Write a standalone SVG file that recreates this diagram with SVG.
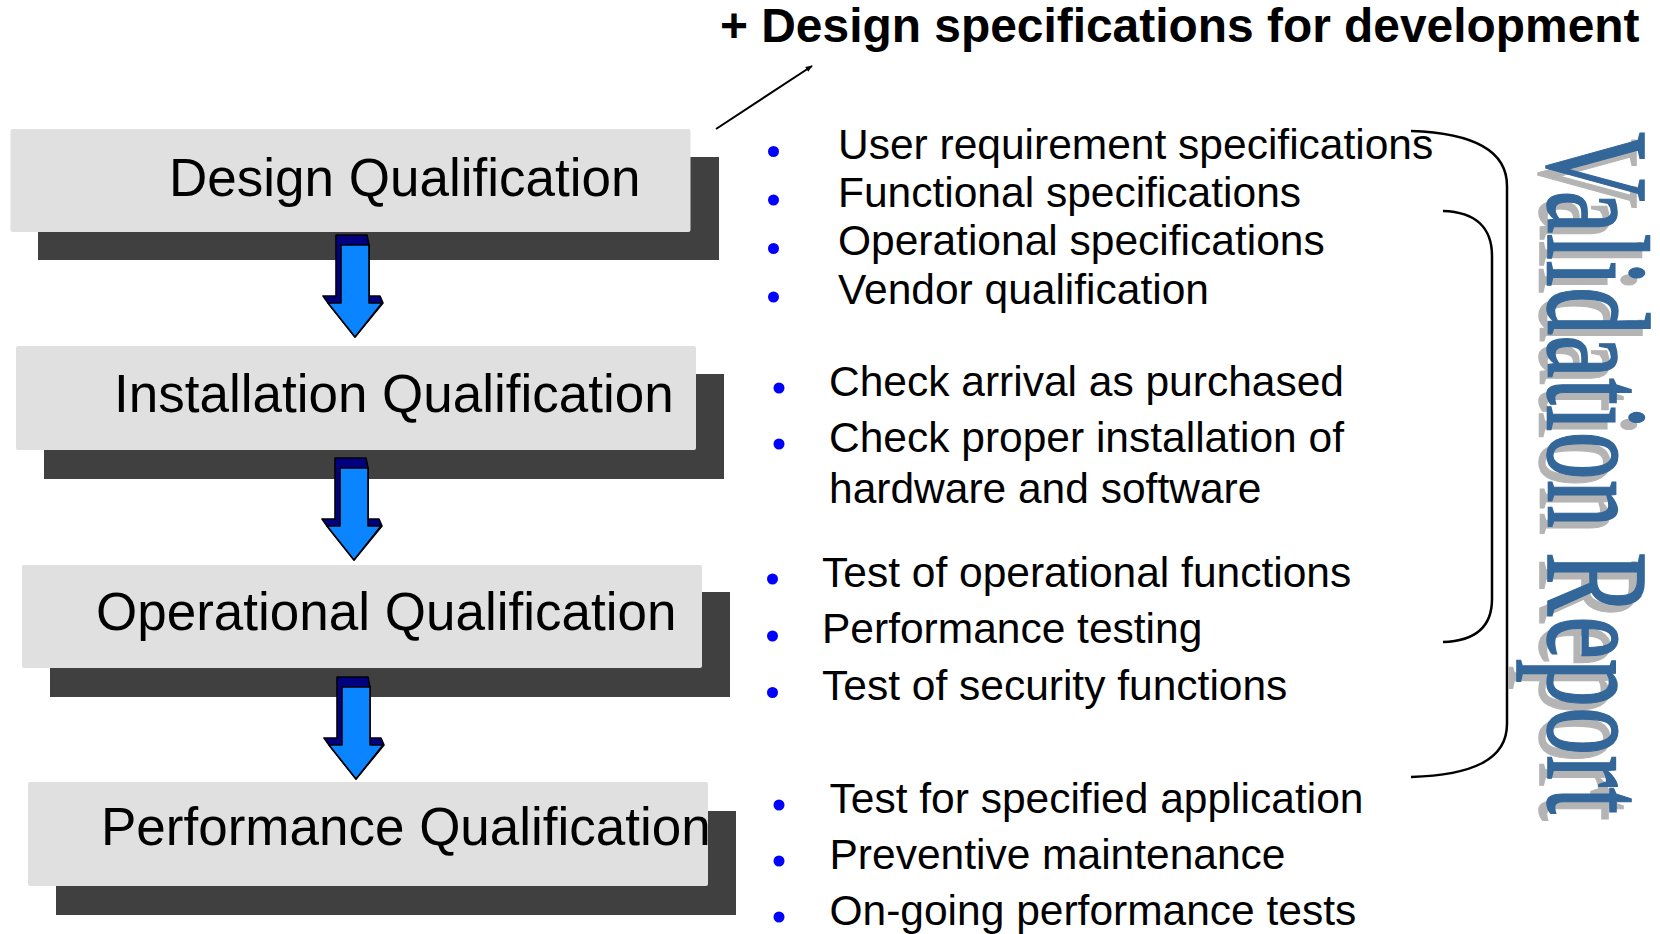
<svg xmlns="http://www.w3.org/2000/svg" width="1660" height="934" viewBox="0 0 1660 934">
  <defs>
    <style>
      .shadow { fill: #404040; }
      .box { fill: #e0e0e0; }
      .label { font-family: "Liberation Sans", Arial, sans-serif; font-size: 53px; fill: #000; }
      .item { font-family: "Liberation Sans", Arial, sans-serif; font-size: 42.5px; fill: #000; }
      .bullet { fill: #0000ff; }
      .title { font-family: "Liberation Sans", Arial, sans-serif; font-size: 47.9px; font-weight: bold; fill: #000; }
      .vr { font-family: "Liberation Serif", "Times New Roman", serif; font-size: 146px; stroke-width: 1.6px; }
      .flow-back { fill: #000080; stroke: #000; stroke-width: 1.6; stroke-linejoin: round; }
      .flow-front { fill: #0a84ff; stroke: #000; stroke-width: 1.6; stroke-linejoin: round; }
      .brace { fill: none; stroke: #000; stroke-width: 2.5; }
    </style>
    <marker id="ah" viewBox="0 0 10 10" refX="9" refY="5" markerWidth="7" markerHeight="7" orient="auto" markerUnits="userSpaceOnUse">
      <path d="M0,1 L10,5 L0,9 z" fill="#000"/>
    </marker>
  </defs>
  <rect width="1660" height="934" fill="#fff"/>

  <g id="node-design">
    <rect class="shadow" x="38" y="157" width="681" height="103"/>
    <rect class="box" x="10.5" y="129" width="680" height="103" rx="2"/>
    <text class="label" x="169" y="196">Design Qualification</text>
  </g>
  <g id="node-installation">
    <rect class="shadow" x="44" y="374" width="680" height="105"/>
    <rect class="box" x="16" y="346" width="680" height="104" rx="2"/>
    <text class="label" x="114" y="412">Installation Qualification</text>
  </g>
  <g id="node-operational">
    <rect class="shadow" x="50" y="592" width="680" height="105"/>
    <rect class="box" x="22" y="565" width="680" height="103" rx="2"/>
    <text class="label" x="96" y="630">Operational Qualification</text>
  </g>
  <g id="node-performance">
    <rect class="shadow" x="56" y="811" width="680" height="104"/>
    <rect class="box" x="28" y="782" width="680" height="104" rx="2"/>
    <text class="label" x="101" y="845">Performance Qualification</text>
  </g>

  <g id="connectors">
    <g id="flow-1" transform="translate(355,245)">
      <polygon class="flow-back" points="-19,-10 12,-10 14,0 14,51 25,51 28,58 0,92 -27,58 -32,51 -19,51"/>
      <polygon class="flow-front" points="-14,0 14,0 14,58 27,58 0,92 -27,58 -14,58"/>
    </g>
    <g id="flow-2" transform="translate(354,468)">
      <polygon class="flow-back" points="-19,-10 12,-10 14,0 14,51 25,51 28,58 0,92 -27,58 -32,51 -19,51"/>
      <polygon class="flow-front" points="-14,0 14,0 14,58 27,58 0,92 -27,58 -14,58"/>
    </g>
    <g id="flow-3" transform="translate(356,687)">
      <polygon class="flow-back" points="-19,-10 12,-10 14,0 14,51 25,51 28,58 0,92 -27,58 -32,51 -19,51"/>
      <polygon class="flow-front" points="-14,0 14,0 14,58 27,58 0,92 -27,58 -14,58"/>
    </g>
    <line id="to-title" x1="716" y1="129" x2="812" y2="66" stroke="#000" stroke-width="2" marker-end="url(#ah)"/>
    <path id="brace-outer" class="brace" d="M1411,131 C1472,133 1507,150 1507,186 L1507,724 C1507,760 1472,775 1411,777"/>
    <path id="brace-inner" class="brace" d="M1443,211 C1476,212 1492,228 1492,256 L1492,599 C1492,627 1476,641 1443,642"/>
  </g>

  <g id="title">
    <text class="title" x="720" y="42">+ Design specifications for development</text>
  </g>

  <g id="list-design">
    <circle class="bullet" cx="773.5" cy="151.5" r="5.5"/>
    <circle class="bullet" cx="773.5" cy="200" r="5.5"/>
    <circle class="bullet" cx="773.5" cy="248.5" r="5.5"/>
    <circle class="bullet" cx="773.5" cy="297" r="5.5"/>
    <text class="item" x="838" y="159">User requirement specifications</text>
    <text class="item" x="838" y="207">Functional specifications</text>
    <text class="item" x="838" y="255">Operational specifications</text>
    <text class="item" x="838" y="303.5">Vendor qualification</text>
  </g>
  <g id="list-installation">
    <circle class="bullet" cx="779" cy="388" r="5.5"/>
    <circle class="bullet" cx="779" cy="444" r="5.5"/>
    <text class="item" x="829" y="396">Check arrival as purchased</text>
    <text class="item" x="829" y="452">Check proper installation of</text>
    <text class="item" x="829" y="502.5">hardware and software</text>
  </g>
  <g id="list-operational">
    <circle class="bullet" cx="772.5" cy="579" r="5.5"/>
    <circle class="bullet" cx="772.5" cy="636" r="5.5"/>
    <circle class="bullet" cx="772.5" cy="692.5" r="5.5"/>
    <text class="item" x="822" y="586.5">Test of operational functions</text>
    <text class="item" x="822" y="643">Performance testing</text>
    <text class="item" x="822" y="699.5">Test of security functions</text>
  </g>
  <g id="list-performance">
    <circle class="bullet" cx="779" cy="805" r="5.5"/>
    <circle class="bullet" cx="779" cy="861" r="5.5"/>
    <circle class="bullet" cx="779" cy="917" r="5.5"/>
    <text class="item" x="829.5" y="812.5">Test for specified application</text>
    <text class="item" x="829.5" y="869">Preventive maintenance</text>
    <text class="item" x="829.5" y="925">On-going performance tests</text>
  </g>

  <g id="validation-report">
    <text class="vr" fill="#b4b4b4" stroke="#b4b4b4" transform="translate(1540,139) rotate(90)" x="0" y="0" textLength="682" lengthAdjust="spacingAndGlyphs">Validation Report</text>
    <text class="vr" fill="#336699" stroke="#336699" transform="translate(1548,132) rotate(90)" x="0" y="0" textLength="682" lengthAdjust="spacingAndGlyphs">Validation Report</text>
  </g>
</svg>
